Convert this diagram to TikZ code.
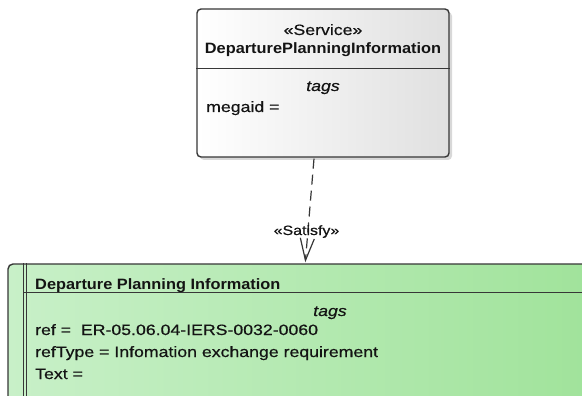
\documentclass[tikz,border=0pt]{standalone}
\usepackage{fontspec}
\newfontfamily\rf{Liberation Sans}[FakeStretch=1.18, FakeBold=0.5]
\newfontfamily\bfam{Liberation Sans}[FakeStretch=1.09]
\usetikzlibrary{arrows.meta,shadows,calc}

\definecolor{edgegray}{RGB}{55,55,55}
\definecolor{svcleft}{RGB}{255,255,255}
\definecolor{svcright}{RGB}{224,224,224}
\definecolor{reqleft}{RGB}{200,240,200}
\definecolor{reqright}{RGB}{158,226,152}
\definecolor{inkdark}{RGB}{20,20,20}

\tikzset{
  txt/.style={inner sep=0pt, text=inkdark, font=\rf\fontsize{15}{18}\selectfont},
  boldtxt/.style={inner sep=0pt, text=inkdark, font=\bfam\bfseries\fontsize{15}{18}\selectfont},
  tagtxt/.style={inner sep=0pt, text=inkdark, font=\rf\itshape\fontsize{15}{18}\selectfont},
  lbltxt/.style={inner sep=0pt, text=inkdark, font=\rf\fontsize{13.5}{15}\selectfont},
  svcbox/.style={draw=edgegray, line width=1.4pt, rounded corners=4pt,
    left color=svcleft, right color=svcright,
    minimum width=252pt, minimum height=148pt, inner sep=0pt,
    drop shadow={shadow xshift=3pt, shadow yshift=-3pt, opacity=0.3, fill=black!50}},
  reqbox/.style={draw=edgegray, line width=1.4pt, rounded corners=5pt,
    left color=reqleft, right color=reqright,
    minimum width=620pt, minimum height=200pt, inner sep=0pt},
  divider/.style={draw=edgegray, line width=1.3pt},
  satisfy/.style={draw=edgegray, line width=1.2pt, dash pattern=on 10pt off 6pt,
    -{Straight Barb[length=22pt, width=14pt, line width=1.2pt]}},
}

\begin{document}
\begin{tikzpicture}[x=1pt, y=-1pt]
\clip (0,0) rectangle (582,396);
\fill[white] (0,0) rectangle (582,396);

% service element
\node[svcbox] (svc) at (323,83) {};
\draw[divider] ($(svc.north west)+(0,60)$) -- ($(svc.north east)+(0,60)$);
\node[txt, anchor=base] (svcst) at (323,35) {«Service»};
\node[boldtxt, anchor=base] (svcname) at (323,54) {DeparturePlanningInformation};
\node[tagtxt, anchor=base] (svctags) at (323,91) {tags};
\node[txt, anchor=base west] (svcmega) at (206,112) {megaid =};

% requirement element
\node[reqbox] (req) at (318,364) {};
\draw[edgegray, line width=1.2pt] ($(req.north west)+(16,0)$) -- ($(req.south west)+(16,0)$);
\draw[edgegray, line width=1.2pt] ($(req.north west)+(19.5,0)$) -- ($(req.south west)+(19.5,0)$);
\draw[divider] ($(req.north west)+(16,29)$) -- ($(req.north east)+(0,29)$);
\node[boldtxt, anchor=base west] (reqname) at (35,289) {Departure Planning Information};
\node[tagtxt, anchor=base] (reqtags) at (330,316) {tags};
\node[txt, anchor=base west] (reqref) at (35,335) {ref =\ \ ER-05.06.04-IERS-0032-0060};
\node[txt, anchor=base west] (reqtype) at (35,357) {refType = Infomation exchange requirement};
\node[txt, anchor=base west] (reqtext) at (35,379) {Text =};

% satisfy dependency
\draw[satisfy] ($(svc.south)+(-9,1)$) -- ($(req.north west)+(298,-1)$);
\node[lbltxt, anchor=base] (satlbl) at (306.5,235) {«Satisfy»};
\end{tikzpicture}
\end{document}
